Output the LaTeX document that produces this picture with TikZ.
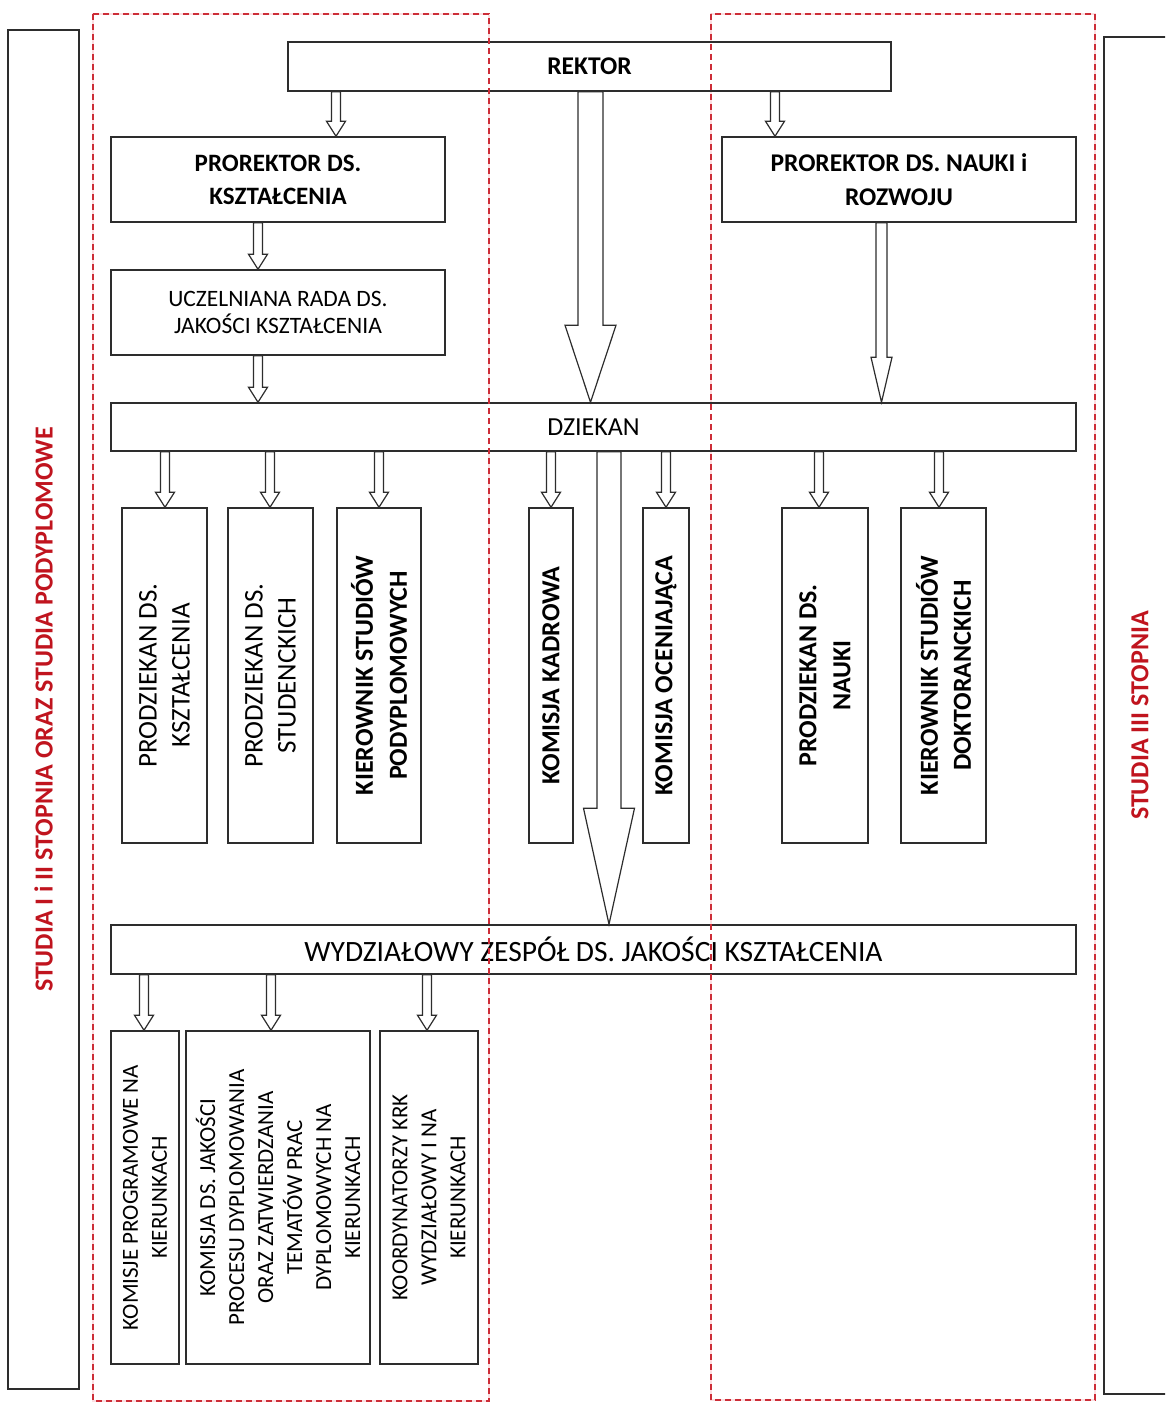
\documentclass[tikz,border=0pt]{standalone}
\usepackage{fontspec}
\setmainfont{Carlito}
\usetikzlibrary{calc}
\definecolor{boxc}{RGB}{45,45,45}
\definecolor{redlab}{RGB}{192,20,30}
\definecolor{dashred}{RGB}{205,45,55}
\definecolor{dashpink}{RGB}{251,222,225}
\newcommand{\fsz}[2]{\fontsize{#1}{#2}\selectfont}
\tikzset{
  box/.style={draw=boxc, line width=1.5pt, fill=white, inner sep=0pt, align=center, text=black},
  vbox/.style={box, rotate=90, minimum width=335pt},
  bbox/.style={box, rotate=90, minimum width=333pt, font=\fsz{23}{29}},
  sidebox/.style={draw=boxc, line width=1.5pt, inner sep=0pt, rotate=90, text=redlab, font=\fsz{26}{31}\bfseries},
  arrowline/.style={draw=boxc, line width=1.2pt, fill=white, line join=miter},
  dashbox/.style={draw=dashred, line width=1.1pt, dash pattern=on 6pt off 4pt},
  dashhalo/.style={draw=dashpink, line width=2.6pt},
}
% block arrow: x, from point, to point, shaft half width, head half width, head length
\newcommand{\blockarrow}[6]{%
  \filldraw[arrowline] let \p1=(#2), \p2=(#3) in
   (#1pt-#4pt,\y1) -- (#1pt-#4pt,\y2+#6pt) -- (#1pt-#5pt,\y2+#6pt) -- (#1pt,\y2)
   -- (#1pt+#5pt,\y2+#6pt) -- (#1pt+#4pt,\y2+#6pt) -- (#1pt+#4pt,\y1) -- cycle;}
\newcommand{\smallarrow}[3]{\blockarrow{#1}{#2}{#3}{4.5}{9.5}{15}}
\begin{document}
\begin{tikzpicture}[x=1pt,y=-1pt]
\useasboundingbox (0,0) rectangle (1165,1405);
\clip (0,0) rectangle (1165,1405);
\fill[white] (0,0) rectangle (1165,1405);

% halos of the dashed frames (under the boxes)
\draw[dashhalo] (93,14) rectangle (489,1401);
\draw[dashhalo] (711,14) rectangle (1095,1400);

% side label boxes
\node[sidebox, minimum width=1359pt, minimum height=71pt] (lab1) at (43.5,709.5) {STUDIA I i II STOPNIA ORAZ STUDIA PODYPLOMOWE};
\node[sidebox, minimum width=1357pt, minimum height=72pt] (lab3) at (1140,715.5) {STUDIA III STOPNIA};

% top
\node[box, minimum width=603pt, minimum height=49pt, font=\fsz{25.5}{31}\bfseries] (rek) at (589.5,66.5) {REKTOR};
\node[box, minimum width=334pt, minimum height=85pt, font=\fsz{25}{33}\bfseries] (pk) at (278,179.5) {PROREKTOR DS.\\KSZTAŁCENIA};
\node[box, minimum width=334pt, minimum height=85pt, font=\fsz{23.5}{27}] (ucz) at (278,312.5) {UCZELNIANA RADA DS.\\JAKOŚCI KSZTAŁCENIA};
\node[box, minimum width=354pt, minimum height=85pt, font=\fsz{25.5}{34}\bfseries] (pn) at (899,179.5) {PROREKTOR DS. NAUKI i\\ROZWOJU};
\node[box, minimum width=965pt, minimum height=48pt, font=\fsz{26}{31}] (dz) at (593.5,427) {DZIEKAN};

% middle row (rotated)
\node[vbox, minimum height=85pt, font=\fsz{27}{33}] (pdk) at (164.5,675.5) {PRODZIEKAN DS.\\KSZTAŁCENIA};
\node[vbox, minimum height=85pt, font=\fsz{27}{33}] (pds) at (270.5,675.5) {PRODZIEKAN DS.\\STUDENCKICH};
\node[vbox, minimum height=84pt, font=\fsz{26}{34}\bfseries] (kp) at (379,675.5) {KIEROWNIK STUDIÓW\\PODYPLOMOWYCH};
\node[vbox, minimum height=44pt, font=\fsz{26}{31}\bfseries] (kk) at (551,675.5) {KOMISJA KADROWA};
\node[vbox, minimum height=46pt, font=\fsz{26}{31}\bfseries] (ko) at (666,675.5) {KOMISJA OCENIAJĄCA};
\node[vbox, minimum height=86pt, font=\fsz{26}{34}\bfseries] (pdn) at (825,675.5) {PRODZIEKAN DS.\\NAUKI};
\node[vbox, minimum height=85pt, font=\fsz{26}{33}\bfseries] (kd) at (943.5,675.5) {KIEROWNIK STUDIÓW\\DOKTORANCKICH};

% faculty team
\node[box, minimum width=965pt, minimum height=49pt, font=\fsz{29.5}{33}] (wz) at (593.5,949.5) {WYDZIAŁOWY ZESPÓŁ DS. JAKOŚCI KSZTAŁCENIA};

% bottom row
\node[bbox, minimum height=68pt] (kpn) at (145,1197.5) {KOMISJE PROGRAMOWE NA\\KIERUNKACH};
\node[bbox, minimum height=184pt] (kj) at (278,1197.5) {KOMISJA DS. JAKOŚCI\\PROCESU DYPLOMOWANIA\\ORAZ ZATWIERDZANIA\\TEMATÓW PRAC\\DYPLOMOWYCH NA\\KIERUNKACH};
\node[bbox, minimum height=98pt] (krk) at (429,1197.5) {KOORDYNATORZY KRK\\WYDZIAŁOWY I NA\\KIERUNKACH};

% arrows
\smallarrow{336}{rek.south}{pk.north}
\smallarrow{775}{rek.south}{pn.north}
\blockarrow{590.5}{rek.south}{dz.north}{12.5}{25.5}{77}
\smallarrow{258}{pk.south}{ucz.north}
\smallarrow{258}{ucz.south}{dz.north}
\blockarrow{881.5}{pn.south}{dz.north}{5.5}{10.5}{45}
\smallarrow{165}{dz.south}{pdk.east}
\smallarrow{270}{dz.south}{pds.east}
\smallarrow{379}{dz.south}{kp.east}
\smallarrow{551}{dz.south}{kk.east}
\smallarrow{666}{dz.south}{ko.east}
\smallarrow{819}{dz.south}{pdn.east}
\smallarrow{939}{dz.south}{kd.east}
\blockarrow{609}{dz.south}{wz.north}{12}{25.5}{116}
\smallarrow{144}{wz.south}{kpn.east}
\smallarrow{271}{wz.south}{kj.east}
\smallarrow{427}{wz.south}{krk.east}

% dashed frames on top
\draw[dashbox] (93,14) rectangle (489,1401);
\draw[dashbox] (711,14) rectangle (1095,1400);
\end{tikzpicture}
\end{document}
